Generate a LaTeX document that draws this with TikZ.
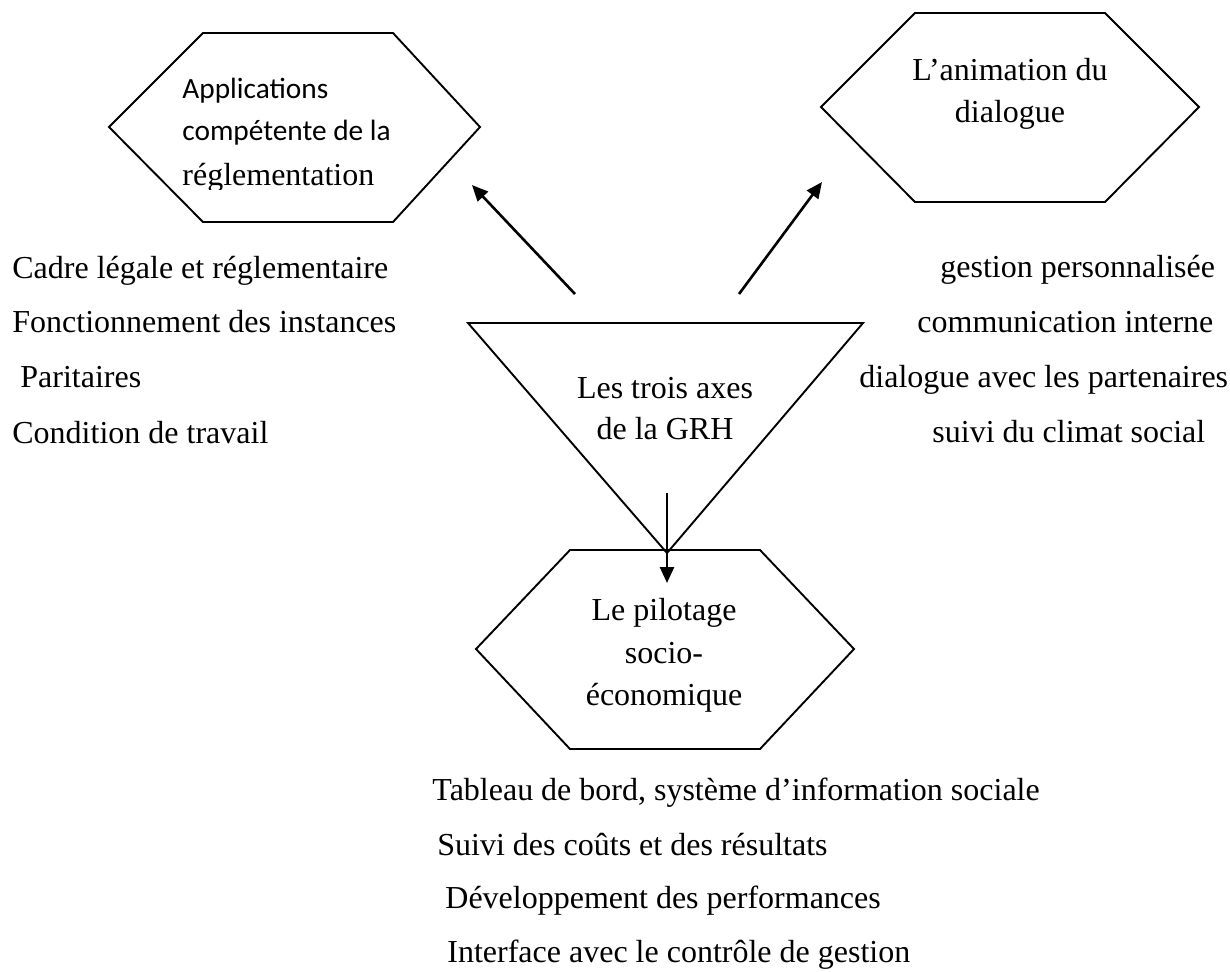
\documentclass[tikz,border=0pt]{standalone}
\usepackage{fontspec}
\setmainfont{Liberation Serif}
\newfontfamily\calibrifont{Carlito}
\usetikzlibrary{arrows.meta}

\tikzset{
  outline/.style={draw=black, line width=0.95pt, line join=miter},
  link/.style={draw=black, line width=1.3pt, -{Triangle[length=8pt, width=7pt]}},
  txt/.style={inner sep=0pt, font=\fontsize{16}{20}\selectfont},
  cal/.style={inner sep=0pt, font=\calibrifont\fontsize{14.67}{18}\selectfont}
}

\begin{document}
\begin{tikzpicture}[x=0.5pt, y=-0.5pt]
  \useasboundingbox (0,0) rectangle (1230,971);

  % shapes
  \draw[outline] (109,127) -- (203,33) -- (393,33) -- (480,127) -- (393,222) -- (203,222) -- cycle;
  \draw[outline] (821,107) -- (915,13) -- (1105,13) -- (1199,107) -- (1105,202) -- (915,202) -- cycle;
  \draw[outline] (468,323) -- (863,323) -- (667,553) -- cycle;
  \draw[outline] (476,649) -- (570,550) -- (760,550) -- (854,649) -- (760,749) -- (570,749) -- cycle;

  % labels inside the shapes
  \node[cal, anchor=base west] (reg1) at (182,98) {Applications};
  \node[cal, anchor=base west] (reg2) at (182,140) {compétente de la};
  \begin{scope}
    \clip (150,150) rectangle (460,189);
    \node[txt, anchor=base west] (reg3) at (182,185) {réglementation};
  \end{scope}

  \node[txt, anchor=base] (dia1) at (1010,80) {L’animation du};
  \node[txt, anchor=base] (dia2) at (1010,122) {dialogue};

  \node[txt, anchor=base] (grh1) at (665,398) {Les trois axes};
  \node[txt, anchor=base] (grh2) at (665,439) {de la GRH};

  \node[txt, anchor=base] (pil1) at (664,620) {Le pilotage};
  \node[txt, anchor=base] (pil2) at (664,663) {socio-};
  \node[txt, anchor=base] (pil3) at (664,705) {économique};

  % connectors
  \coordinate (aL0) at (575,294);
  \coordinate (aL1) at (472,185);
  \coordinate (aR0) at (739,294);
  \coordinate (aR1) at (822,182);
  \coordinate (aD0) at (667,493);
  \coordinate (aD1) at (667,583);
  \draw[link] (aL0) -- (aL1);
  \draw[link] (aR0) -- (aR1);
  \draw[link] (aD0) -- (aD1);

  % left list
  \node[txt, anchor=base west] (left1) at (12,278) {Cadre légale et réglementaire};
  \node[txt, anchor=base west] (left2) at (12,332) {Fonctionnement des instances};
  \node[txt, anchor=base west] (left3) at (20,387) {Paritaires};
  \node[txt, anchor=base west] (left4) at (12,443) {Condition de travail};

  % right list
  \node[txt, anchor=base west] (right1) at (940,277) {gestion personnalisée};
  \node[txt, anchor=base west] (right2) at (917,332) {communication interne};
  \node[txt, anchor=base west] (right3) at (859,387) {dialogue avec les partenaires};
  \node[txt, anchor=base west] (right4) at (932,442) {suivi du climat social};

  % bottom list
  \node[txt, anchor=base west] (bot1) at (432,800) {Tableau de bord, système d’information sociale};
  \node[txt, anchor=base west] (bot2) at (437,855) {Suivi des coûts et des résultats};
  \node[txt, anchor=base west] (bot3) at (445,908) {Développement des performances};
  \node[txt, anchor=base west] (bot4) at (447,962) {Interface avec le contrôle de gestion};
\end{tikzpicture}
\end{document}
